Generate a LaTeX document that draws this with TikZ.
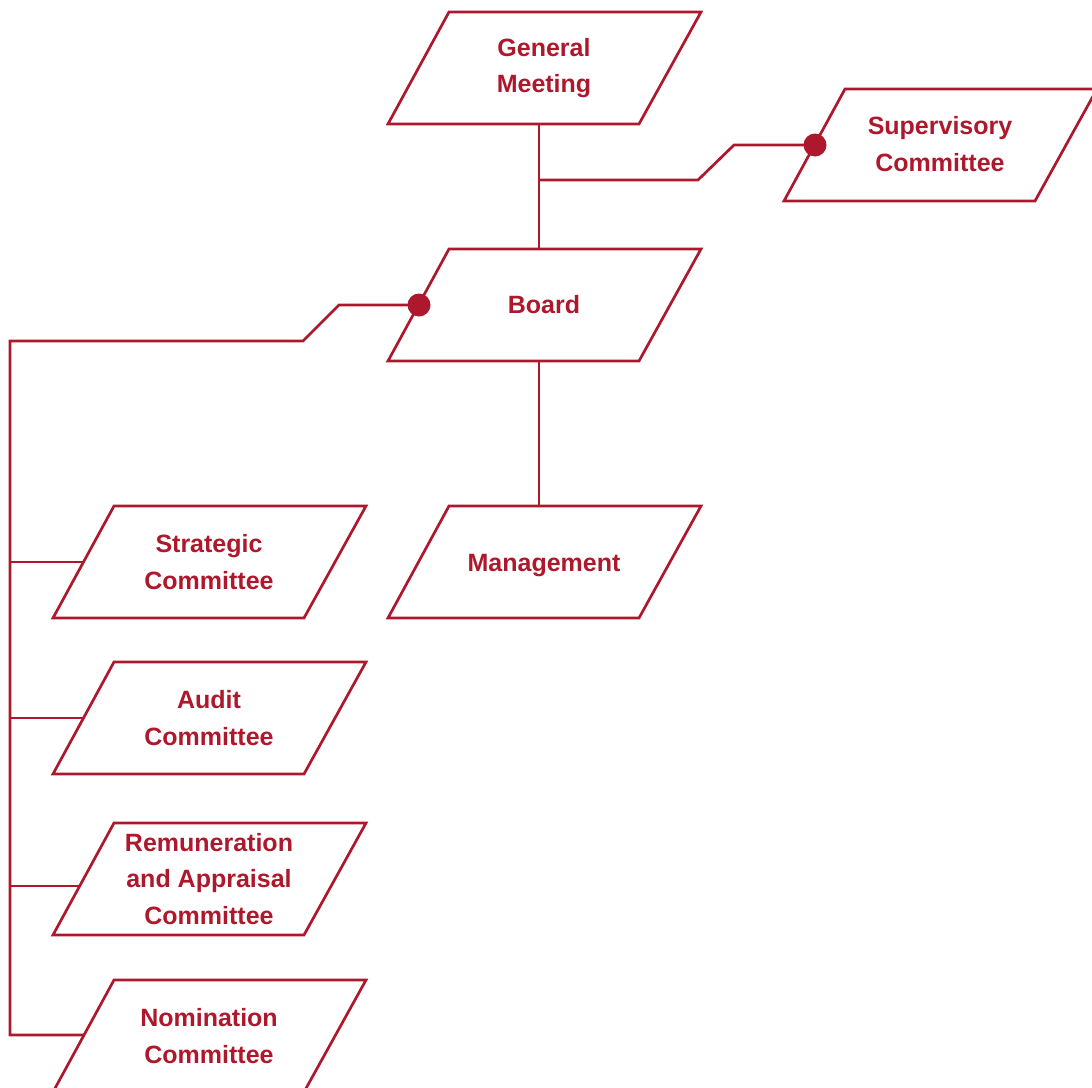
\documentclass[tikz,border=0pt]{standalone}
\usepackage{fontspec}
\setmainfont{Liberation Sans}
\usetikzlibrary{calc}
\definecolor{crim}{RGB}{174,24,44}
\tikzset{
  edge/.style={draw=crim, line width=2.7pt},
  boxtext/.style={text=crim, font=\bfseries\fontsize{25}{36.8}\selectfont, align=center, inner sep=0pt},
  joint/.style={fill=crim, draw=none}
}
% #1 name, #2 x, #3 y, #4 text, #5 text y-offset
\newcommand\pbox[5]{%
  \coordinate (#1-c) at (#2,#3);
  \node[boxtext] (#1) at ($(#1-c)+(0,#5)$) {#4};
  \draw[edge, line join=miter] ($(#1-c)+(-95,-56)$) -- ++(252,0) -- ++(-62,112) -- ++(-251,0) -- cycle;
  \coordinate (#1-top) at ($(#1-c)+(-5,-56)$);
  \coordinate (#1-bot) at ($(#1-c)+(-5,56)$);
  \coordinate (#1-left) at ($(#1-c)+(-125,0)$);
}
\begin{document}
\begin{tikzpicture}[x=1pt, y=-1pt]
\useasboundingbox (0,0) rectangle (1092,1087);
\clip (0,0) rectangle (1092,1087);
\fill[white] (0,0) rectangle (1092,1087);

\pbox{gm}{544}{68}{General\\Meeting}{0}
\pbox{sup}{940}{145}{Supervisory\\Committee}{-1}
\pbox{board}{544}{305}{Board}{0}
\pbox{mgmt}{544}{562}{Management}{4}
\pbox{strat}{209}{562}{Strategic\\Committee}{0}
\pbox{audit}{209}{718}{Audit\\Committee}{0}
\pbox{rem}{209}{879}{Remuneration\\and Appraisal\\Committee}{0}
\pbox{nom}{209}{1036}{Nomination\\Committee}{0}

% General Meeting to Board
\draw[edge] (gm-bot) -- (board-top);
% Supervisory branch
\coordinate (j1) at (539,180);
\draw[edge, line join=miter] (j1) -- (698,180) -- (sup-left -| 734,0) -- (sup-left);
% Board to Management
\draw[edge] (board-bot) -- (mgmt-top);
% Board to committees
\coordinate (spine-top) at (10,341);
\coordinate (spine-bot) at (10,1035);
\draw[edge, line join=miter] (board-left) -- (board-left -| 339,0) -- (303,341) -- (spine-top) -- (spine-bot) -- ($(nom-left)+(0,-1)$);
\draw[edge] (10,562) -- (strat-left);
\draw[edge] (10,718) -- (audit-left);
\draw[edge] (10,886) -- ($(rem-left)+(-4,7)$);

\fill[joint] (sup-left) circle (11.5);
\fill[joint] (board-left) circle (11.5);
\end{tikzpicture}
\end{document}
